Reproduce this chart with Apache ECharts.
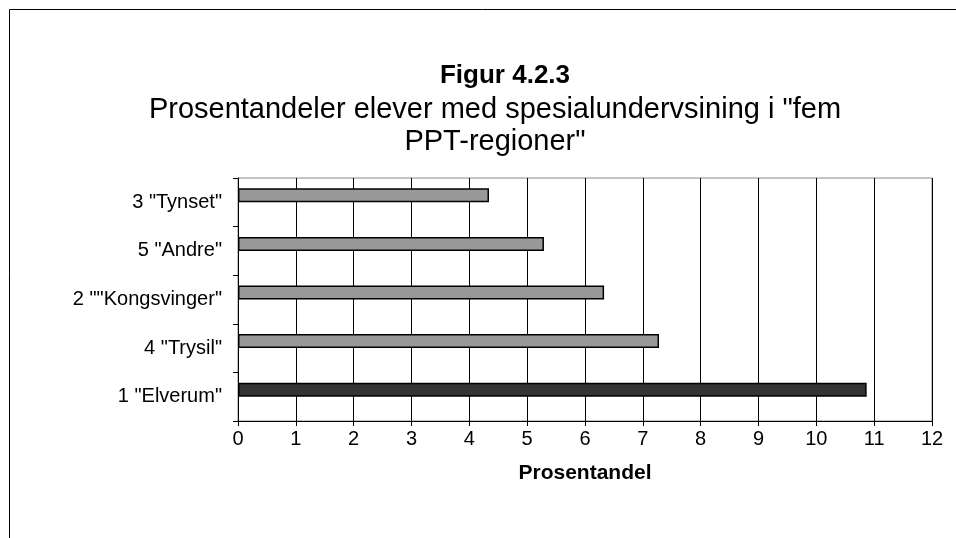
<!DOCTYPE html>
<html><head><meta charset="utf-8">
<script src="https://cdn.jsdelivr.net/npm/echarts@6/dist/echarts.min.js"></script>
<style>html,body{margin:0;padding:0;background:#fff}#c{width:956px;height:538px}</style>
</head><body><div id="c"></div>
<script>
const categories = ['1 "Elverum"', '4 "Trysil"', '2 ""Kongsvinger"', '5 "Andre"', '3 "Tynset"'];
const values = [10.87, 7.28, 6.33, 5.29, 4.34];
const xTicks = [0, 12, 1];
const titleText = 'Figur 4.2.3';
const subtitleText = 'Prosentandeler elever med spesialundervsining i "fem\nPPT-regioner"';
const axisName = 'Prosentandel';

const chart = echarts.init(document.getElementById('c'), null, {renderer: 'canvas'});
const F = '"Liberation Sans", Arial, sans-serif';
chart.setOption({
  animation: false,
  backgroundColor: '#fff',
  graphic: [{
    type: 'polyline', shape: {points: [[9.5, 538], [9.5, 9.5], [956, 9.5]]},
    style: {stroke: '#000', lineWidth: 1, fill: null}
  }],
  title: [{
    text: titleText, left: 505, top: 63, textAlign: 'center', padding: 0,
    textStyle: {fontFamily: F, fontSize: 26, fontWeight: 'bold', color: '#000', lineHeight: 26}
  }, {
    text: subtitleText, left: 495, top: 94, textAlign: 'center', padding: 0,
    textStyle: {fontFamily: F, fontSize: 29, fontWeight: 'normal', color: '#000', lineHeight: 32}
  }],
  grid: {left: 238, right: 24, top: 178, bottom: 117, show: true, borderColor: '#888', borderWidth: 1},
  xAxis: {
    type: 'value', min: xTicks[0], max: xTicks[1], interval: xTicks[2],
    name: axisName, nameLocation: 'middle', nameGap: 42,
    nameTextStyle: {fontFamily: F, fontSize: 21, fontWeight: 'bold', color: '#000'},
    axisLine: {show: true, lineStyle: {color: '#000', width: 1}},
    axisTick: {show: true, length: 5, lineStyle: {color: '#000'}},
    axisLabel: {fontFamily: F, fontSize: 20, color: '#000', margin: 8},
    splitLine: {show: true, lineStyle: {color: '#000', width: 1}}
  },
  yAxis: {
    type: 'category', data: categories,
    axisLine: {show: true, lineStyle: {color: '#000', width: 1}},
    axisTick: {show: true, length: 5, lineStyle: {color: '#000'}},
    axisLabel: {fontFamily: F, fontSize: 20, color: '#000', margin: 16}
  },
  series: [{
    type: 'bar', data: values, barWidth: 14, barGap: '0%',
    itemStyle: {
      color: p => p.dataIndex === 0 ? '#333333' : '#999999',
      borderColor: '#000', borderWidth: 1.5
    }
  }, {
    type: 'bar', data: values.map(() => null), barWidth: 14
  }]
});
</script></body></html>
